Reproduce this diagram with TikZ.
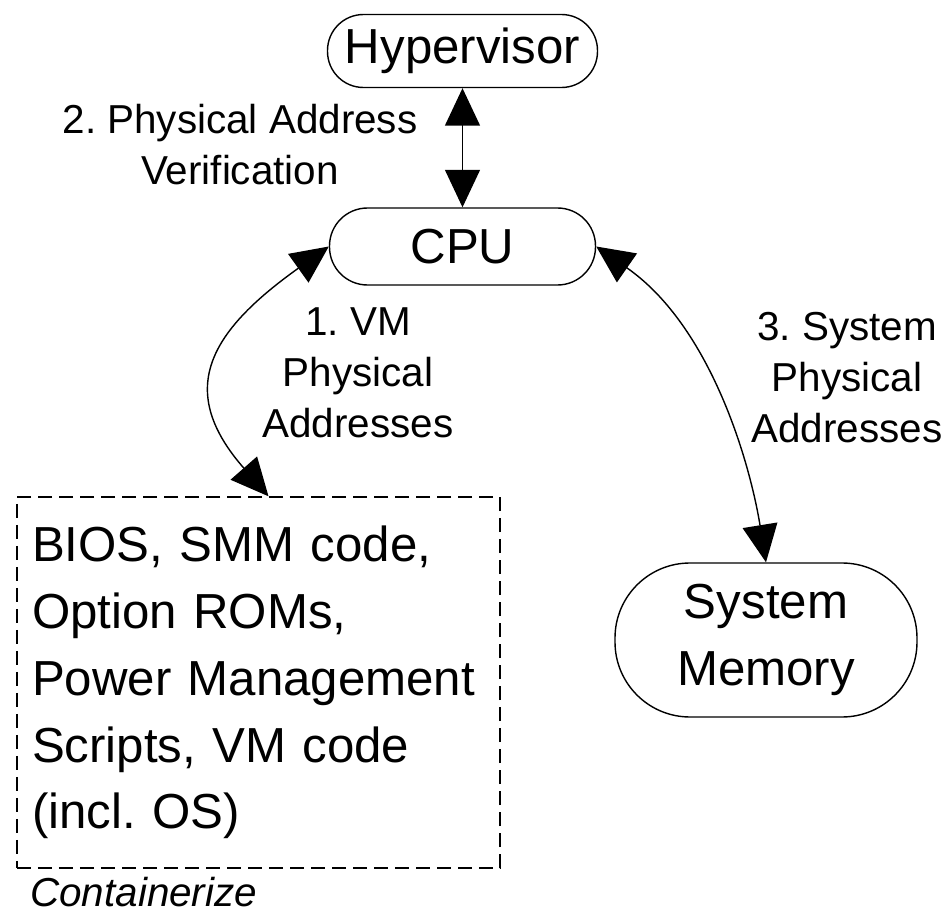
\documentclass[tikz,border=0pt]{standalone}
\usepackage{fontspec}
\setmainfont{Liberation Sans}
\usetikzlibrary{arrows.meta,calc}
\frenchspacing

\begin{document}
\begin{tikzpicture}[
	pill/.style={draw, line width=0.8pt, rounded corners=#1, font=\fontsize{28}{38}\selectfont, align=center, inner sep=0pt},
	lbl/.style={font=\fontsize{23}{29}\selectfont, align=center},
	biarrow/.style={line width=0.8pt, {Triangle[length=0.75cm,width=0.7cm]}-{Triangle[length=0.75cm,width=0.7cm]}}
	]
		%%%%% START %%%%%
		\useasboundingbox (0,0) rectangle (19.04,-18.36);
		
		% boxes
		\node[pill=0.72cm, minimum width=5.4cm, minimum height=1.46cm] (hyp) at (9.25,-1.02) {Hypervisor};
		\node[pill=0.76cm, minimum width=5.32cm, minimum height=1.54cm] (cpu) at (9.25,-4.93) {CPU};
		\node[pill=1.5cm, minimum width=6.04cm, minimum height=3.08cm] (mem) at (15.32,-12.8) {System\\Memory};
		
		\node[draw, line width=0.8pt, dash pattern=on 0.28cm off 0.14cm, minimum width=9.66cm, minimum height=7.42cm,
			text width=9.06cm, inner xsep=0.3cm, align=left, font=\fontsize{28}{38}\selectfont] (bios) at (5.17,-13.65)
			{BIOS, SMM code,\\Option ROMs,\\Power Management\\Scripts, VM code\\(incl. OS)};
		\node[anchor=base west, font=\fontsize{23}{29}\selectfont\itshape] (cont) at (0.48,-18.12) {Containerize};
		
		% labels
		\node[lbl] (lbl2) at (4.8,-2.9) {2. Physical Address\\Verification};
		\node[lbl] (lbl1) at (7.16,-7.46) {1. VM\\Physical\\Addresses};
		\node[lbl] (lbl3) at (16.94,-7.56) {3. System\\Physical\\Addresses};
		
		% arrows
		\draw[biarrow] (hyp.south) -- (cpu.north);
		\draw[biarrow] (cpu.west) .. controls +(-2.44,-1.74) and +(-1.84,2.1) .. ([xshift=0.2cm]bios.north);
		\draw[biarrow] (cpu.east) .. controls +(2.3,-1.6) and +(-0.32,1.98) .. (mem.north);
		
		%%%%% END %%%%%
\end{tikzpicture}
\end{document}
